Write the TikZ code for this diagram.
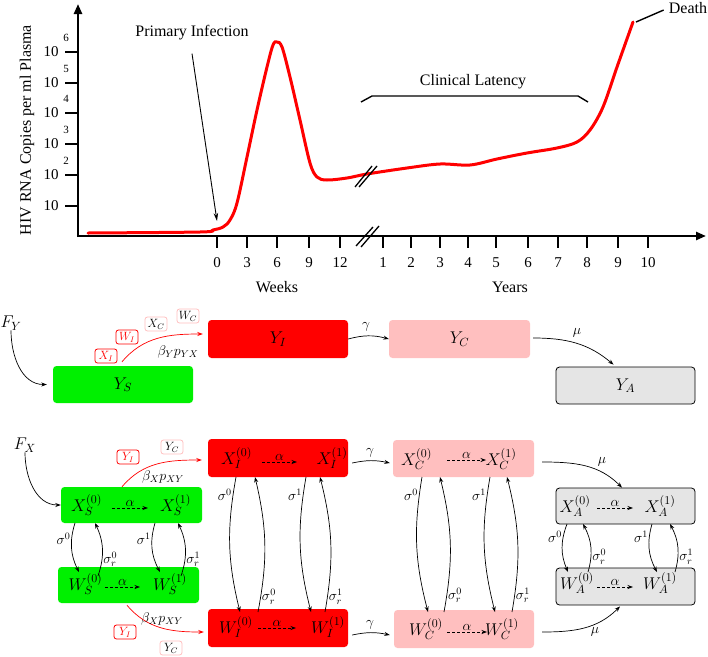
\RequirePackage{fix-cm}
\documentclass[tikz,border=0pt]{standalone}
\usepackage{fontspec}
\newfontfamily\timesf{Liberation Serif}
\usetikzlibrary{arrows.meta,calc}
\definecolor{pinkc}{RGB}{255,191,191}
\definecolor{grayc}{RGB}{229,229,229}
\definecolor{greenc}{RGB}{0,240,0}
\tikzset{
 curve/.style={red,line width=3pt,line cap=round},
 axis/.style={line width=2.4pt},
 tickln/.style={line width=2pt},
 plotlbl/.style={font=\timesf\fontsize{16}{18}\selectfont, inner sep=0pt},
 ticklbl/.style={font=\timesf\fontsize{15}{17}\selectfont, inner sep=0pt},
 suplbl/.style={font=\timesf\fontsize{11}{12}\selectfont, inner sep=0pt},
 cbox/.style={rounded corners=3.5pt, inner sep=0pt, font=\fontsize{17}{20}\selectfont},
 sbox/.style={cbox, fill=greenc},
 ibox/.style={cbox, fill=red},
 kbox/.style={cbox, fill=pinkc},
 dbox/.style={cbox, fill=grayc, draw=black, line width=0.8pt},
 lbl/.style={font=\fontsize{17}{20}\selectfont, inner sep=0pt},
 elbl/.style={font=\fontsize{14}{16}\selectfont, inner sep=1pt},
 tagbox/.style={draw, rounded corners=2.5pt, minimum width=22pt, minimum height=14pt, inner sep=1pt, line width=0.8pt, font=\fontsize{12}{14}\selectfont},
 rtag/.style={tagbox, draw=red, text=red},
 ptag/.style={tagbox, draw=pinkc, text=black},
 arr/.style={-{Stealth[length=5.5pt,width=4pt]}, line width=0.7pt},
 darr/.style={arr, dash pattern=on 3pt off 2pt},
 thinarr/.style={-{Stealth[length=8pt,width=4.5pt]}, line width=0.9pt},
}
\begin{document}
\begin{tikzpicture}[x=1pt,y=1pt]
\useasboundingbox (0,0) rectangle (708,-656);
% ---------------- plot ----------------
\draw[axis,-{Triangle[length=10pt,width=8pt]}] (78,-237.2) -- (78,-4);
\draw[axis,-{Triangle[length=10pt,width=8pt]}] (76.8,-236) -- (706,-236);
\foreach \y/\e in {52/6,83/5,113/4,144/3,175/2}{
  \draw[tickln] (65,-\y) -- (78,-\y);
  \node[ticklbl] (yl\e) at (51,-\y) {10};
  \node[suplbl] (ys\e) at (66,-\y+14) {\e};
}
\draw[tickln] (65,-206) -- (78,-206);
\node[ticklbl] (yl1) at (51,-206) {10};
\foreach \x/\l [count=\i] in {217/0,247/3,277/6,309/9,340/12}{
  \draw[tickln] (\x,-236) -- (\x,-248);
  \node[ticklbl] (wk\i) at (\x,-263) {\l};
}
\foreach \x/\l [count=\i] in {383/1,411/2,440/3,468/4,496/5,528/6,558/7,587/8,618/9,648/10}{
  \draw[tickln] (\x,-236) -- (\x,-248);
  \node[ticklbl] (yr\i) at (\x,-263) {\l};
}
\draw[curve] plot[smooth,tension=0.55] coordinates {(88,-233) (200,-232) (213,-230) (223,-227) (230,-220) (237,-203) (247,-157) (257,-110) (267,-67) (273,-45) (277,-42) (282,-47) (290,-77) (300,-120) (310,-163) (317,-177) (327,-180) (347,-178) (367,-174) (407,-168) (440,-164) (470,-165) (497,-159) (527,-153) (557,-148) (577,-142) (590,-130) (603,-107) (617,-67) (633,-22)};
% break marks
\draw[line width=1.3pt] (356,-246) -- (373,-227) (361,-247) -- (379,-226);
\draw[line width=1.3pt] (355,-187) -- (372,-166) (359,-187) -- (377,-166);
% labels
\node[plotlbl,rotate=90] (ylab) at (27,-130) {HIV RNA Copies per ml Plasma};
\node[plotlbl] (weeks) at (277,-287) {Weeks};
\node[plotlbl] (years) at (510,-287) {Years};
\node[plotlbl] (pinf) at (192,-33) {Primary Infection};
\coordinate (pinfend) at (217,-221);
\draw[thinarr] ([yshift=-13pt]pinf.south) -- (pinfend);
\node[plotlbl] (clat) at (473,-82) {Clinical Latency};
\draw[line width=1.4pt] (361,-102) -- (372,-96) -- (578,-96) -- (588,-102);
\node[plotlbl] (death) at (688,-8) {Death};
\coordinate (dend) at (636,-22);
\draw[line width=1.4pt] (dend) -- ([xshift=-5pt,yshift=-2pt]death.west);
% ---------------- Y row ----------------
\node[sbox,minimum width=140pt,minimum height=37pt] (YS) at (123,-384.5) {$Y_S$};
\node[ibox,minimum width=140pt,minimum height=38pt] (YI) at (278,-339) {$Y_I$};
\node[kbox,minimum width=141pt,minimum height=38pt] (YC) at (459.5,-339) {$Y_C$};
\node[dbox,minimum width=139pt,minimum height=37pt] (YA) at (625.5,-385.5) {$Y_A$};
\node[lbl] (FY) at (11,-323) {$F_Y$};
\draw[arr] (FY.south) to[out=-90,in=180] ([xshift=-6pt]YS.west);
\draw[arr,red] ($(YS.north)+(-1,4)$) to[out=50,in=180] ($(YI.west)+(-5,5)$);
\node[elbl] (bY) at (178,-352) {$\beta_Y p_{YX}$};
\node[rtag] (tY1) at (106,-356) {$X_I$};
\node[rtag] (tY2) at (127,-337) {$W_I$};
\node[ptag] (tY3) at (156,-324) {$X_C$};
\node[ptag] (tY4) at (188,-316) {$W_C$};
\draw[arr] (YI.east) to[bend left=15] (YC.west);
\node[elbl] (gY) at (366,-327) {$\gamma$};
\draw[arr] ($(YC.east)+(3,1)$) to[out=0,in=140] ($(YA.north)+(-12,2)$);
\node[elbl] (mY) at (577,-333) {$\mu$};
% ---------------- X / W rows ----------------
\node[sbox,minimum width=141pt,minimum height=36pt] (XS) at (131.5,-505) {};
\node[sbox,minimum width=141pt,minimum height=36pt] (WS) at (128.5,-585) {};
\node[ibox,minimum width=140pt,minimum height=38pt] (XI) at (278,-458) {};
\node[ibox,minimum width=140pt,minimum height=38pt] (WI) at (278,-628) {};
\node[kbox,minimum width=141pt,minimum height=37pt] (XC) at (463.5,-458.5) {};
\node[kbox,minimum width=140pt,minimum height=38pt] (WC) at (464,-629) {};
\node[dbox,minimum width=139pt,minimum height=36pt] (XA) at (625.5,-506) {};
\node[dbox,minimum width=139pt,minimum height=37pt] (WA) at (625.5,-586.5) {};
\node[lbl] (xs0) at (86.5,-505) {$X_S^{(0)}$};
\node[lbl] (xs1) at (175.5,-505) {$X_S^{(1)}$};
\node[lbl] (ws0) at (85.5,-584) {$W_S^{(0)}$};
\node[lbl] (ws1) at (170,-584) {$W_S^{(1)}$};
\node[lbl] (xi0) at (236.5,-458) {$X_I^{(0)}$};
\node[lbl] (xi1) at (332,-458) {$X_I^{(1)}$};
\node[lbl] (wi0) at (236,-627) {$W_I^{(0)}$};
\node[lbl] (wi1) at (328,-627) {$W_I^{(1)}$};
\node[lbl] (xc0) at (416.5,-459) {$X_C^{(0)}$};
\node[lbl] (xc1) at (501,-459) {$X_C^{(1)}$};
\node[lbl] (wc0) at (426,-629) {$W_C^{(0)}$};
\node[lbl] (wc1) at (502,-629) {$W_C^{(1)}$};
\node[lbl] (xa0) at (575,-506) {$X_A^{(0)}$};
\node[lbl] (xa1) at (660,-506) {$X_A^{(1)}$};
\node[lbl] (wa0) at (577,-583) {$W_A^{(0)}$};
\node[lbl] (wa1) at (660,-583) {$W_A^{(1)}$};
% alpha transitions
\draw[darr] ($(XS)+(-19.5,-3)$) -- node[elbl,above] (aXS) {$\alpha$} ($(XS)+(16.5,-3)$);
\draw[darr] ($(WS)+(-23.5,-2)$) -- node[elbl,above] (aWS) {$\alpha$} ($(WS)+(11.5,-2)$);
\draw[darr] ($(XI)+(-16,-4)$) -- node[elbl,above] (aXI) {$\alpha$} ($(XI)+(19,-4)$);
\draw[darr] ($(WI)+(-20,0)$) -- node[elbl,above] (aWI) {$\alpha$} ($(WI)+(18,0)$);
\draw[darr] ($(XC)+(-16.5,-1.5)$) -- node[elbl,above] (aXC) {$\alpha$} ($(XC)+(22.5,-1.5)$);
\draw[darr] ($(WC)+(-17,-3)$) -- node[elbl,above] (aWC) {$\alpha$} ($(WC)+(23,-3)$);
\draw[darr] ($(XA)+(-28.5,-2)$) -- node[elbl,above] (aXA) {$\alpha$} ($(XA)+(7.5,-2)$);
\draw[darr] ($(WA)+(-28.5,-0.5)$) -- node[elbl,above] (aWA) {$\alpha$} ($(WA)+(7.5,-0.5)$);
% sigma transitions S
\draw[arr] ($(XS)+(-56.5,-18)$) to[bend right=22] node[elbl,pos=.3,left] (sS0) {$\sigma^0$} ($(WS)+(-49.5,13)$);
\draw[arr] ($(WS)+(-30.5,9)$) to[bend right=22] node[elbl,pos=.3,right] (rS0) {$\sigma_r^0$} ($(XS)+(-36.5,-18)$);
\draw[arr] ($(XS)+(23.5,-18)$) to[bend right=22] node[elbl,pos=.3,left] (sS1) {$\sigma^1$} ($(WS)+(31.5,13)$);
\draw[arr] ($(WS)+(52.5,9)$) to[bend right=22] node[elbl,pos=.3,right] (rS1) {$\sigma_r^1$} ($(XS)+(46.5,-18)$);
% sigma I
\draw[arr] ($(XI)+(-42,-19)$) to[bend right=12] node[elbl,pos=.12,left] (sI0) {$\sigma^0$} ($(WI)+(-38,16)$);
\draw[arr] ($(WI)+(-20,16)$) to[bend right=12] node[elbl,pos=.1,right] (rI0) {$\sigma_r^0$} ($(XI)+(-23,-19)$);
\draw[arr] ($(XI)+(28,-19)$) to[bend right=12] node[elbl,pos=.12,left] (sI1) {$\sigma^1$} ($(WI)+(33,16)$);
\draw[arr] ($(WI)+(47,16)$) to[bend right=12] node[elbl,pos=.1,right] (rI1) {$\sigma_r^1$} ($(XI)+(42,-19)$);
% sigma C
\draw[arr] ($(XC)+(-41.5,-18.5)$) to[bend right=12] node[elbl,pos=.12,left] (sC0) {$\sigma^0$} ($(WC)+(-36,17)$);
\draw[arr] ($(WC)+(-20,17)$) to[bend right=12] node[elbl,pos=.11,right] (rC0) {$\sigma_r^0$} ($(XC)+(-23.5,-18.5)$);
\draw[arr] ($(XC)+(26.5,-18.5)$) to[bend right=12] node[elbl,pos=.12,left] (sC1) {$\sigma^1$} ($(WC)+(31,17)$);
\draw[arr] ($(WC)+(48,17)$) to[bend right=12] node[elbl,pos=.11,right] (rC1) {$\sigma_r^1$} ($(XC)+(43.5,-18.5)$);
% sigma A
\draw[arr] ($(XA)+(-58.5,-18)$) to[bend right=22] node[elbl,pos=.25,left] (sA0) {$\sigma^0$} ($(WA)+(-57.5,14.5)$);
\draw[arr] ($(WA)+(-37.5,14.5)$) to[bend right=22] node[elbl,pos=.3,right] (rA0) {$\sigma_r^0$} ($(XA)+(-42.5,-18)$);
\draw[arr] ($(XA)+(26.5,-18)$) to[bend right=22] node[elbl,pos=.25,left] (sA1) {$\sigma^1$} ($(WA)+(31.5,14.5)$);
\draw[arr] ($(WA)+(49.5,14.5)$) to[bend right=22] node[elbl,pos=.3,right] (rA1) {$\sigma_r^1$} ($(XA)+(44.5,-18)$);
% inflows
\node[lbl] (FX) at (25,-445) {$F_X$};
\draw[arr] (FX.south) to[out=-90,in=180] (XS.west);
% infection X
\draw[arr,red] ($(XS.north)+(-9.5,0)$) to[out=50,in=180] ($(XI.west)+(-6,-2)$);
\node[elbl] (bX) at (163,-477) {$\beta_X p_{XY}$};
\node[rtag] (tX1) at (128,-457) {$Y_I$};
\node[ptag] (tX2) at (172,-447) {$Y_C$};
% infection W
\draw[arr,red] ($(WS.south)+(-1.5,-2)$) to[out=-50,in=180] ($(WI.west)+(-4,-4)$);
\node[elbl] (bW) at (162,-619) {$\beta_X p_{XY}$};
\node[rtag] (tW1) at (125,-632) {$Y_I$};
\node[ptag] (tW2) at (171,-648) {$Y_C$};
% gamma
\draw[arr] ($(XI.east)+(4,-5)$) to[bend left=12] ($(XC.west)+(-3,-4.5)$);
\node[elbl] (gX) at (370,-453) {$\gamma$};
\draw[arr] ($(WI.east)+(4,-7)$) to[bend left=12] ($(WC.west)+(-4,-6)$);
\node[elbl] (gW) at (370,-625) {$\gamma$};
% mu
\draw[arr] ($(XC.east)+(8,-3.5)$) to[out=0,in=135] ($(XA.north)+(-3.5,0)$);
\node[elbl] (mX) at (602,-462) {$\mu$};
\draw[arr] ($(WC.east)+(8,-3)$) to[out=0,in=-135] ($(WA.south)+(-5.5,-1)$);
\node[elbl] (mW) at (595,-632) {$\mu$};
\end{tikzpicture}
\end{document}
